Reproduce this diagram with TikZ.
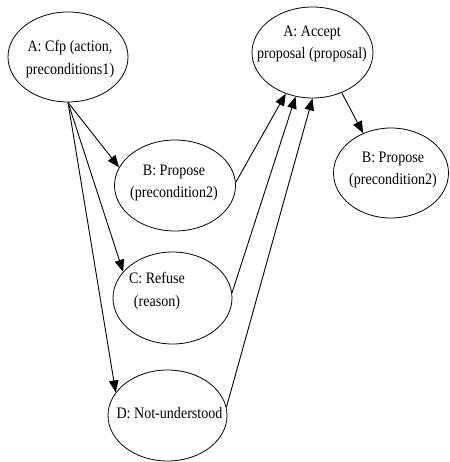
\documentclass[tikz,border=0pt]{standalone}
\usepackage{fontspec}
\setmainfont[FakeStretch=0.88]{Liberation Serif}
\usetikzlibrary{shapes.geometric,arrows.meta}
\begin{document}
\begin{tikzpicture}[x=1pt,y=-1pt,
  state/.style={draw,ellipse,line width=0.8pt,inner sep=0pt},
  lbl/.style={align=center,inner sep=0pt,font=\fontsize{16}{22.5}\selectfont},
  msg/.style={line width=0.9pt,-{Triangle[length=12pt,width=9.5pt]}}]
\useasboundingbox (0,0) rectangle (449,462);

% protocol states
\node[state,minimum width=120pt,minimum height=90pt] (cfp) at (68,57) {};
\node[state,minimum width=121pt,minimum height=91pt] (acc) at (312.5,52.5) {};
\node[state,minimum width=115pt,minimum height=90pt] (br) at (391,173) {};
\node[state,minimum width=121pt,minimum height=91pt] (bm) at (175,185.5) {};
\node[state,minimum width=119pt,minimum height=92pt] (cr) at (172.5,298) {};
\node[state,minimum width=119pt,minimum height=91pt] (dn) at (167.5,415.5) {};

% state texts
\node[lbl] (cfpT) at (70,59) {A: Cfp (action,\\preconditions1)};
\node[lbl] (accT) at (312,44) {A: Accept\\proposal (proposal)};
\node[lbl] (brT) at (393,170) {B: Propose\\(precondition2)};
\node[lbl] (bmT) at (174,183) {B: Propose\\(precondition2)};
\node[lbl] (crT) at (157,291) {C: Refuse\\(reason)};
\node[lbl] (dnT) at (169.5,413) {D: Not-understood};

% messages
\draw[msg] (cfp.south) -- (bm.162);
\draw[msg] (cfp.south) -- (cr.152);
\draw[msg] (cfp.south) -- (dn.156);
\draw[msg] (bm.3) -- (acc.237);
\draw[msg] (cr.5) -- (acc.249);
\draw[msg] (dn.8) -- (acc.270);
\draw[msg] (acc.306) -- (br.125);
\end{tikzpicture}
\end{document}
